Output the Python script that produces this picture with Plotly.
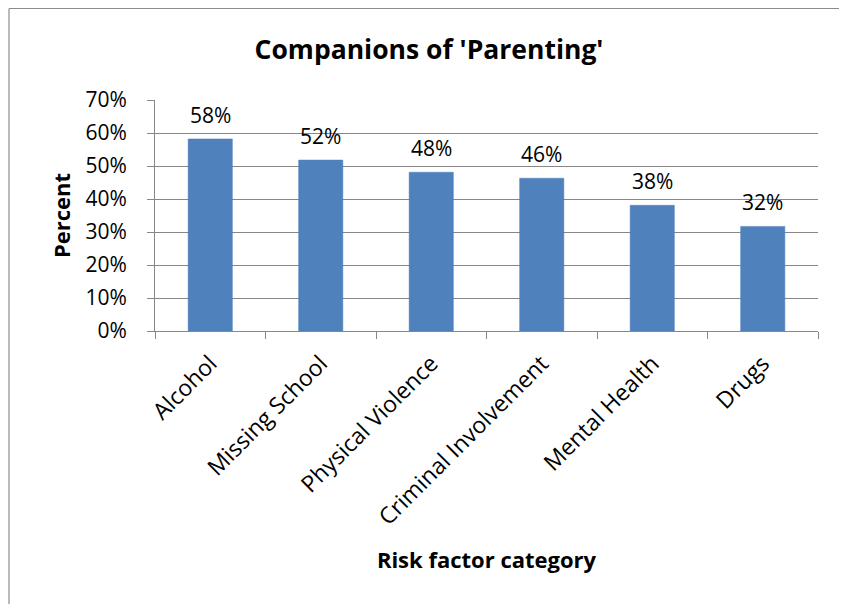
import plotly.graph_objects as go

categories = ["Alcohol", "Missing School", "Physical Violence", "Criminal Involvement", "Mental Health", "Drugs"]
values = [0.582, 0.518, 0.481, 0.463, 0.381, 0.317]
labels = ["58%", "52%", "48%", "46%", "38%", "32%"]
y_ticks = [0, 0.1, 0.2, 0.3, 0.4, 0.5, 0.6, 0.7]

FONT = "Open Sans"
GRID = "#878787"

fig = go.Figure()
fig.add_trace(go.Bar(x=categories, y=values, marker=dict(color="#4F81BD", line=dict(color="#4A7EBB", width=0.5)),
                     hoverinfo="skip"))

for c, v, t in zip(categories, values, labels):
    fig.add_annotation(x=c, y=v, text=t, showarrow=False, yanchor="bottom", yshift=8,
                       font=dict(family=FONT, size=21, color="#000000"))

# the page has an 8px body margin, so the figure is placed at (8, 8)
W, H = 839, 596
L, R, T, B = 147, 29, 92, 273
pw, ph = W - L - R, H - T - B

fig.update_layout(
    width=W, height=H,
    margin=dict(l=L, r=R, t=T, b=B),
    paper_bgcolor="white", plot_bgcolor="white",
    showlegend=False,
    bargap=0.6,
    font=dict(family=FONT, size=21, color="#000000"),
    title=dict(text="<b>Companions of 'Parenting'</b>", x=421 / W, xanchor="center", y=1 - 42 / H, yanchor="middle",
               font=dict(family=FONT, size=26.5, color="#000000")),
    xaxis=dict(
        tickangle=-45, tickson="boundaries", ticks="outside", ticklen=7, tickcolor=GRID,
        showline=True, linecolor=GRID, linewidth=1, showgrid=False, automargin=False,
        tickfont=dict(family=FONT, size=23), ticklabelstandoff=9,
        title=dict(text="<b>Risk factor category</b>", font=dict(family=FONT, size=22), standoff=22),
    ),
    yaxis=dict(
        range=[0, 0.7], tickvals=y_ticks, tickformat=".0%", ticks="outside", ticklen=7, tickcolor=GRID,
        showline=True, linecolor=GRID, linewidth=1, showgrid=True, gridcolor=GRID, gridwidth=1,
        tickfont=dict(family=FONT, size=21), zeroline=False, automargin=False, ticklabelstandoff=16,
        title=dict(text="<b>Percent</b>", font=dict(family=FONT, size=22), standoff=8),
    ),
)

# chart frame (left and top edges visible)
x_left = (1 - L) / pw
y_top = 1 + (T - 0.5) / ph
fig.add_shape(type="line", xref="paper", yref="paper", x0=x_left, x1=x_left, y0=-B / ph - 0.1, y1=y_top,
              line=dict(color="#8C8C8C", width=1.2))
fig.add_shape(type="line", xref="paper", yref="paper", x0=x_left, x1=1 + R / pw + 0.1, y0=y_top, y1=y_top,
              line=dict(color="#8C8C8C", width=1.2))

fig.write_html("out.html")
